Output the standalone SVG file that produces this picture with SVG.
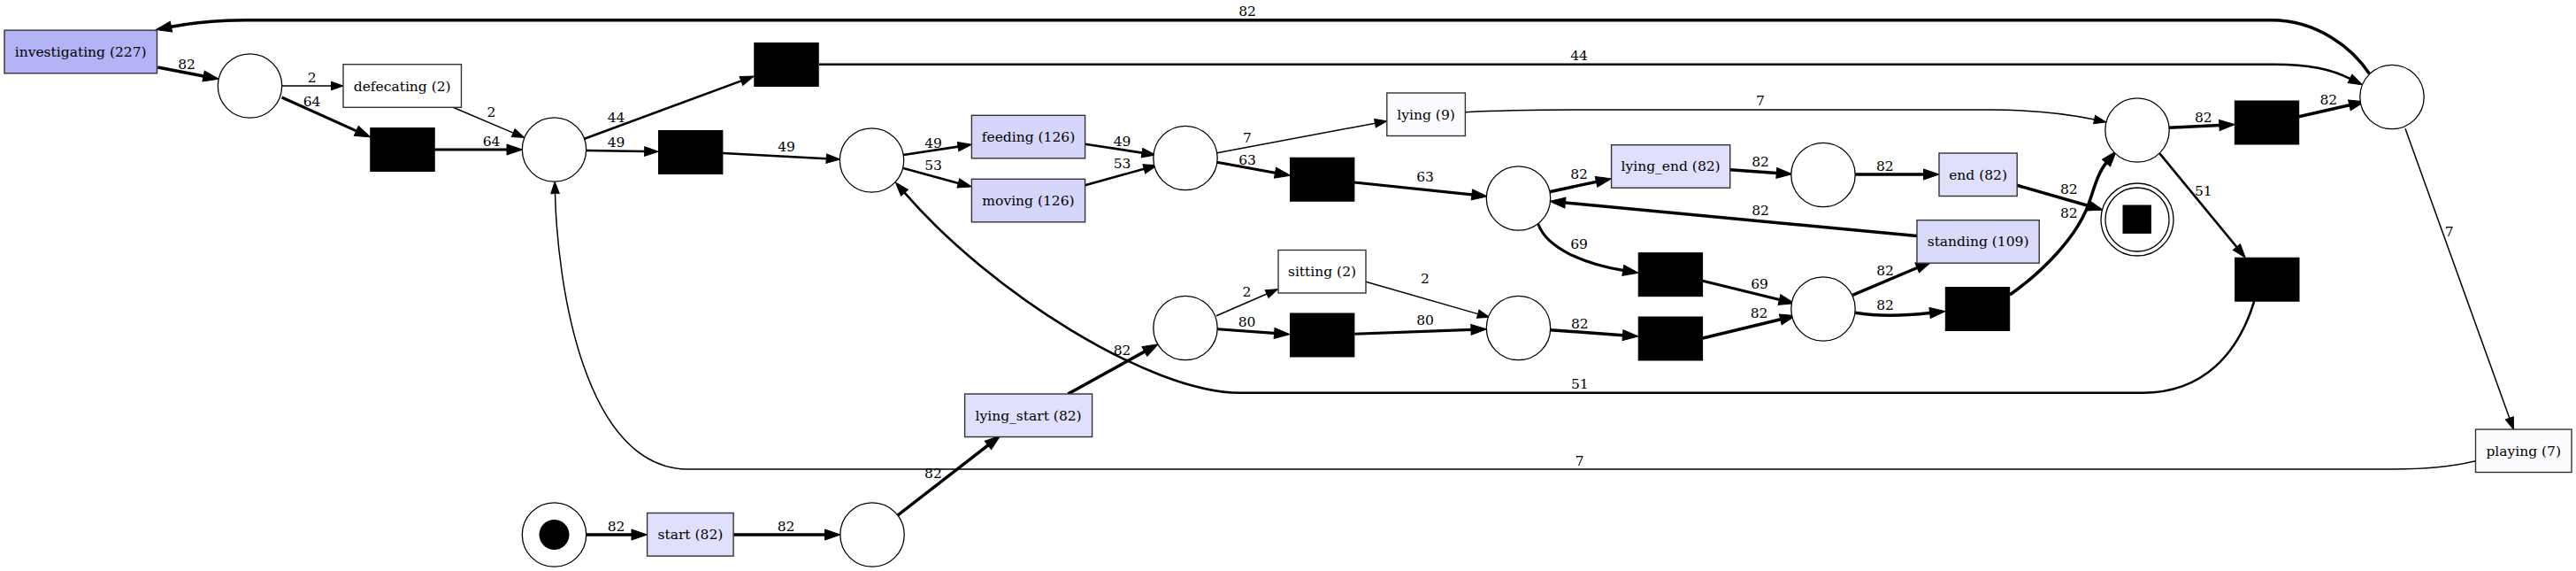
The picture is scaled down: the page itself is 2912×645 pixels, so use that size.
<svg xmlns="http://www.w3.org/2000/svg" width="2912" height="645" viewBox="0 0 2912 645">
<style>
.place{fill:#fff;stroke:#000;stroke-width:1.3}
.trans{stroke:#333;stroke-width:1.4}
.hid{fill:#000;stroke:#000;stroke-width:1}
.nt{font-family:"DejaVu Serif",serif;font-size:15.5px;fill:#000;text-anchor:middle}
.et{font-family:"DejaVu Serif",serif;font-size:15.5px;fill:#000;text-anchor:middle}
.e{fill:none;stroke:#000}
.w1{stroke-width:1.5;marker-end:url(#a1)}
.w2{stroke-width:2.6;marker-end:url(#a2)}
.w3{stroke-width:3.1;marker-end:url(#a3)}
.w4{stroke-width:3.5;marker-end:url(#a3)}
</style>
<defs>
<marker id="a1" markerUnits="userSpaceOnUse" markerWidth="16" markerHeight="12" refX="0" refY="0" orient="auto" overflow="visible"><path d="M0,-4.75 L13.5,0 L0,4.75 z" fill="#000" stroke="#000" stroke-width="1"/></marker>
<marker id="a2" markerUnits="userSpaceOnUse" markerWidth="18" markerHeight="12" refX="0" refY="0" orient="auto" overflow="visible"><path d="M0,-5.25 L15.5,0 L0,5.25 z" fill="#000" stroke="#000" stroke-width="1"/></marker>
<marker id="a3" markerUnits="userSpaceOnUse" markerWidth="20" markerHeight="14" refX="0" refY="0" orient="auto" overflow="visible"><path d="M0,-6 L17.5,0 L0,6 z" fill="#000" stroke="#000" stroke-width="1"/></marker>
</defs>
<rect x="0" y="0" width="2912" height="645" fill="#fff"/>

<g id="connectors">
<path class="e w4" d="M662.5,604 L714,604"/>
<path class="e w4" d="M829.1,604 L932.5,604"/>
<path class="e w4" d="M1014,582.7 L1116.9,503"/>
<path class="e w4" d="M1207.3,445 L1293.9,397.1"/>
<path class="e w1" d="M1375,356.7 L1432.1,332"/>
<path class="e w3" d="M1376.3,371.7 L1440.6,376.4"/>
<path class="e w1" d="M1544,318.3 L1670.7,354.6"/>
<path class="e w3" d="M1531.3,377.3 L1663,372.4"/>
<path class="e w4" d="M1752.6,372.7 L1834.5,378.7"/>
<path class="e w4" d="M1924.8,382 L2012.8,360.8"/>
<path class="e w3" d="M1924.8,317.3 L2011.5,338.5"/>
<path class="e w3" d="M1738.7,252.7 C1748,280 1790,298 1834.8,305.4"/>
<path class="e w4" d="M2094.2,333.3 L2167.2,302.5"/>
<path class="e w4" d="M2097.2,353.3 C2120,357 2150,357 2181.6,353.5"/>
<path class="e w4" d="M2272,333 C2312,305 2345,268 2358,238 C2366,219 2370,197 2381,184"/>
<path class="e w4" d="M2167,266.5 L1769.4,229"/>
<path class="e w4" d="M1751.5,216.7 L1804.5,205.4"/>
<path class="e w4" d="M1955.7,191.7 L2008.3,195.4"/>
<path class="e w4" d="M2097.2,197 L2174.5,197"/>
<path class="e w4" d="M2280,209.3 L2360.1,232.3"/>
<path class="e w4" d="M2452,144.3 L2508.9,141.5"/>
<path class="e w4" d="M2598.7,131.7 L2655.9,118.8"/>
<path class="e w2" d="M2441.4,173.3 L2528.4,279"/>
<path class="e w2" d="M2548.2,340.3 C2530,400 2490,443.7 2422.4,443.7 L1401.8,443.7 C1300,443.7 1120,330 1022.5,217.7"/>
<path class="e w4" d="M2678.4,83.3 C2660,55 2620,22.7 2567.8,22.7 L278,22.7 C240,22.7 215,26 193.5,30.2"/>
<path class="e w1" d="M2719,145.3 L2836.8,472.3"/>
<path class="e w1" d="M2798.5,520.7 C2770,528 2740,530 2704.6,530 L778,530 C660,530 630,320 627.5,218.7"/>
<path class="e w4" d="M178.3,76 L230.1,86"/>
<path class="e w1" d="M318.6,97 L374.5,97"/>
<path class="e w3" d="M318.6,110 L402.8,147.8"/>
<path class="e w1" d="M512.2,121.3 L580.2,150.1"/>
<path class="e w3" d="M491.2,169 L573,169"/>
<path class="e w2" d="M660.7,156.7 L837.9,91.4"/>
<path class="e w2" d="M662.5,170 L728.7,171"/>
<path class="e w2" d="M926,72.7 L2571,72.7 C2610,72.7 2635,78 2656.6,88.9"/>
<path class="e w2" d="M817.2,173 L934.2,179.2"/>
<path class="e w2" d="M1021.2,175 L1083.1,165.6"/>
<path class="e w2" d="M1021.2,190 L1083.4,206.9"/>
<path class="e w2" d="M1226.6,162.7 L1291,172.6"/>
<path class="e w2" d="M1226.6,209.3 L1293.3,190.8"/>
<path class="e w1" d="M1375.8,172.7 L1554.5,139.2"/>
<path class="e w3" d="M1375.8,183.3 L1441.5,195.2"/>
<path class="e w3" d="M1530.8,206 L1663.9,219.9"/>
<path class="e w1" d="M1656.4,126.7 C1700,124.5 1750,124 1800,124 L2248.6,124 C2300,124 2335,128 2367.6,135"/>

<text class="et" x="696.5" y="599.6">82</text>
<text class="et" x="888.5" y="599.6">82</text>
<text class="et" x="1054.9" y="539.9">82</text>
<text class="et" x="1268.5" y="401.3">82</text>
<text class="et" x="1409.5" y="334.9">2</text>
<text class="et" x="1409.5" y="368.9">80</text>
<text class="et" x="1611" y="319.6">2</text>
<text class="et" x="1611" y="367.3">80</text>
<text class="et" x="1785.8" y="370.6">82</text>
<text class="et" x="1988.6" y="358.9">82</text>
<text class="et" x="1989" y="325.9">69</text>
<text class="et" x="1785" y="280.6">69</text>
<text class="et" x="2131" y="310.6">82</text>
<text class="et" x="2131" y="349.6">82</text>
<text class="et" x="2338.8" y="245.6">82</text>
<text class="et" x="1990" y="243.3">82</text>
<text class="et" x="1785" y="202.3">82</text>
<text class="et" x="1990" y="188.3">82</text>
<text class="et" x="2130.8" y="192.9">82</text>
<text class="et" x="2338.8" y="218.9">82</text>
<text class="et" x="2490.8" y="138.3">82</text>
<text class="et" x="2632.3" y="118.3">82</text>
<text class="et" x="2490.8" y="220.6">51</text>
<text class="et" x="1785.8" y="438.9">51</text>
<text class="et" x="1410" y="18.3">82</text>
<text class="et" x="2768.6" y="267.3">7</text>
<text class="et" x="1785.8" y="525.6">7</text>
<text class="et" x="211" y="78.3">82</text>
<text class="et" x="352.6" y="93.3">2</text>
<text class="et" x="352.6" y="119.6">64</text>
<text class="et" x="555.5" y="131.6">2</text>
<text class="et" x="555.5" y="164.6">64</text>
<text class="et" x="696.5" y="138.3">44</text>
<text class="et" x="696.5" y="166.3">49</text>
<text class="et" x="1785" y="68.3">44</text>
<text class="et" x="889" y="171.3">49</text>
<text class="et" x="1055" y="166.6">49</text>
<text class="et" x="1055" y="191.6">53</text>
<text class="et" x="1268.6" y="164.9">49</text>
<text class="et" x="1268.6" y="189.9">53</text>
<text class="et" x="1410" y="160.6">7</text>
<text class="et" x="1410" y="185.6">63</text>
<text class="et" x="1611" y="204.9">63</text>
<text class="et" x="1990" y="118.9">7</text>
</g>

<g id="p_source"><ellipse class="place" cx="626.5" cy="604" rx="36.2" ry="36.2"/><circle cx="626.5" cy="604" r="17" fill="#000"/></g>
<g id="p0"><ellipse class="place" cx="986" cy="604" rx="36.2" ry="36.2"/></g>
<g id="p1"><ellipse class="place" cx="282.5" cy="97" rx="36.2" ry="36.2"/></g>
<g id="p2"><ellipse class="place" cx="626.5" cy="169" rx="36.2" ry="36.2"/></g>
<g id="p3"><ellipse class="place" cx="985.5" cy="181" rx="36.2" ry="36.2"/></g>
<g id="p4"><ellipse class="place" cx="1340" cy="178.5" rx="36.2" ry="36.2"/></g>
<g id="p5"><ellipse class="place" cx="1716.5" cy="224" rx="36.2" ry="36.2"/></g>
<g id="p6"><ellipse class="place" cx="2061" cy="197.5" rx="36.2" ry="36.2"/></g>
<g id="p7"><ellipse class="place" cx="2061" cy="349" rx="36.2" ry="36.2"/></g>
<g id="p8"><ellipse class="place" cx="2416" cy="147" rx="36.2" ry="36.2"/></g>
<g id="p9"><ellipse class="place" cx="2704" cy="109.5" rx="36.2" ry="36.2"/></g>
<g id="p10"><ellipse class="place" cx="1340" cy="370.5" rx="36.2" ry="36.2"/></g>
<g id="p11"><ellipse class="place" cx="1716.5" cy="370.5" rx="36.2" ry="36.2"/></g>
<g id="p_sink"><circle class="place" cx="2416" cy="248" r="41"/><circle class="place" cx="2416" cy="248" r="36"/><rect x="2399.5" y="231.5" width="32.4" height="32.4" fill="#000"/></g>

<g id="t_investigating"><rect class="trans" x="5" y="34.2" width="172.5" height="48.6" fill="#b3b3f5"/><text class="nt" x="91.2" y="64">investigating (227)</text></g>
<g id="t_defecating"><rect class="trans" x="388" y="72.7" width="133.5" height="48.6" fill="#ffffff"/><text class="nt" x="454.7" y="102.5">defecating (2)</text></g>
<g id="t_start"><rect class="trans" x="731.6" y="579.5" width="97.5" height="48.6" fill="#e0e0fc"/><text class="nt" x="780.4" y="609.3">start (82)</text></g>
<g id="t_lying_start"><rect class="trans" x="1090.6" y="445" width="144" height="48.5" fill="#e0e0fc"/><text class="nt" x="1162.6" y="474.7">lying_start (82)</text></g>
<g id="t_feeding"><rect class="trans" x="1098.4" y="130.3" width="128.2" height="48.5" fill="#d6d6fa"/><text class="nt" x="1162.5" y="160">feeding (126)</text></g>
<g id="t_moving"><rect class="trans" x="1098.4" y="202.3" width="128.2" height="48.5" fill="#d6d6fa"/><text class="nt" x="1162.5" y="232">moving (126)</text></g>
<g id="t_lying"><rect class="trans" x="1567.8" y="105" width="88.6" height="48.5" fill="#fbfbff"/><text class="nt" x="1612.1" y="134.7">lying (9)</text></g>
<g id="t_sitting"><rect class="trans" x="1445" y="282.5" width="99" height="48.5" fill="#ffffff"/><text class="nt" x="1494.5" y="312.2">sitting (2)</text></g>
<g id="t_lying_end"><rect class="trans" x="1821.6" y="163.7" width="134.1" height="48.5" fill="#e0e0fc"/><text class="nt" x="1888.6" y="193.4">lying_end (82)</text></g>
<g id="t_end"><rect class="trans" x="2192" y="173" width="88.2" height="48.5" fill="#e0e0fc"/><text class="nt" x="2236.1" y="202.7">end (82)</text></g>
<g id="t_standing"><rect class="trans" x="2167" y="248.7" width="138.2" height="48.5" fill="#dadafb"/><text class="nt" x="2236.1" y="278.4">standing (109)</text></g>
<g id="t_playing"><rect class="trans" x="2798.5" y="485" width="108.5" height="48.5" fill="#fcfcff"/><text class="nt" x="2852.7" y="514.7">playing (7)</text></g>

<g id="h1"><rect class="hid" x="418.8" y="144.5" width="72.4" height="49"/></g>
<g id="h2"><rect class="hid" x="852.8" y="48.5" width="72.4" height="49"/></g>
<g id="h3"><rect class="hid" x="744.5" y="147.5" width="72.4" height="49"/></g>
<g id="h4"><rect class="hid" x="1458.5" y="178.2" width="72.4" height="49"/></g>
<g id="h5"><rect class="hid" x="1852.2" y="285.7" width="72.4" height="49"/></g>
<g id="h6"><rect class="hid" x="2526.3" y="114" width="72.4" height="49"/></g>
<g id="h7"><rect class="hid" x="2526.6" y="291.2" width="72.4" height="49"/></g>
<g id="h8"><rect class="hid" x="1458.5" y="354" width="72.4" height="49"/></g>
<g id="h9"><rect class="hid" x="1852.2" y="358" width="72.4" height="49"/></g>
<g id="h10"><rect class="hid" x="2199.3" y="324.5" width="72.4" height="49"/></g>
</svg>
